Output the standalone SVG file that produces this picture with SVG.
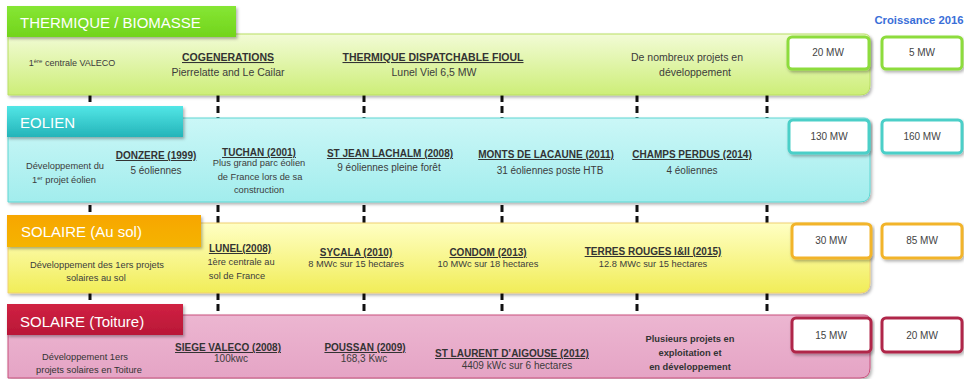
<svg xmlns="http://www.w3.org/2000/svg" width="964" height="379" viewBox="0 0 964 379">
<defs>
<filter id="sh" x="-5%" y="-20%" width="110%" height="150%"><feDropShadow dx="1.5" dy="2" stdDeviation="1.5" flood-color="#000" flood-opacity="0.3"/></filter>
<linearGradient id="gT" x1="0" y1="0" x2="0" y2="1"><stop offset="0" stop-color="#f2fbd6"/><stop offset="1" stop-color="#cdee78"/></linearGradient>
<linearGradient id="gE" x1="0" y1="0" x2="0" y2="1"><stop offset="0" stop-color="#cbf7f7"/><stop offset="1" stop-color="#a2eded"/></linearGradient>
<linearGradient id="gS" x1="0" y1="0" x2="0" y2="1"><stop offset="0" stop-color="#ffffc4"/><stop offset="1" stop-color="#f1ed58"/></linearGradient>
<linearGradient id="gR" x1="0" y1="0" x2="0" y2="1"><stop offset="0" stop-color="#ecb6d1"/><stop offset="1" stop-color="#e5a4c5"/></linearGradient>
<linearGradient id="tT" x1="0" y1="0" x2="0" y2="1"><stop offset="0" stop-color="#86e634"/><stop offset="1" stop-color="#72d41c"/></linearGradient>
<linearGradient id="tE" x1="0" y1="0" x2="0" y2="1"><stop offset="0" stop-color="#52e6e6"/><stop offset="1" stop-color="#24b4b9"/></linearGradient>
<linearGradient id="tS" x1="0" y1="0" x2="0" y2="1"><stop offset="0" stop-color="#f7a600"/><stop offset="1" stop-color="#f5b406"/></linearGradient>
<linearGradient id="tR" x1="0" y1="0" x2="0" y2="1"><stop offset="0" stop-color="#d02242"/><stop offset="1" stop-color="#b91737"/></linearGradient>
</defs>
<style>
text{font-family:"Liberation Sans",Arial,sans-serif;fill:#3c3c3c;text-anchor:middle}
.hd{fill:#fff;font-size:15px;text-anchor:start}
.t1{font-size:10.5px;font-weight:bold;text-decoration:underline;fill:#333}
.b1{font-size:10.5px}
.t{font-size:10px;font-weight:bold;text-decoration:underline;fill:#333}
.b{font-size:10px}
.s{font-size:9.3px}
.bx{fill:#fff;stroke-width:3;filter:url(#sh)}
.mw{font-size:10px;fill:#444}
.dash{stroke:#111;stroke-width:3;stroke-dasharray:7 4;fill:none}
.sup{font-size:6px}
</style>

<g id="connectors">
<line class="dash" x1="90" y1="95" x2="90" y2="316"/>
<line class="dash" x1="218" y1="95" x2="218" y2="316"/>
<line class="dash" x1="364" y1="95" x2="364" y2="316"/>
<line class="dash" x1="502" y1="95" x2="502" y2="316"/>
<line class="dash" x1="637" y1="95" x2="637" y2="316"/>
<line class="dash" x1="767" y1="95" x2="767" y2="316"/>
</g>

<text x="919" y="24" style="font-size:11.3px;font-weight:bold;fill:#3a6fd8;text-anchor:middle">Croissance 2016</text>

<g id="thermique">
<path d="M8,34 H864 Q870,34 870,40 V85 Q870,95 860,95 H8 Z" fill="url(#gT)" stroke="#b9df62" stroke-width="1" filter="url(#sh)"/>
<rect x="7" y="6" width="229" height="31" fill="url(#tT)" filter="url(#sh)"/>
<text class="hd" x="20" y="28">THERMIQUE / BIOMASSE</text>
<text x="72" y="66" style="font-size:9px">1<tspan class="sup" dy="-3.5">ère</tspan><tspan dy="3.5"> centrale VALECO</tspan></text>
<text class="t1" x="228" y="61">COGENERATIONS</text>
<text class="b1" x="228" y="76">Pierrelatte and Le Cailar</text>
<text class="t1" x="433" y="61">THERMIQUE DISPATCHABLE FIOUL</text>
<text class="b1" x="434" y="76">Lunel Viel 6,5 MW</text>
<text class="b1" x="687" y="61">De nombreux projets en</text>
<text class="b1" x="695" y="76">développement</text>
<rect class="bx" x="788" y="37" width="81" height="32" rx="4" stroke="#8ddc3c"/>
<text class="mw" x="828" y="56">20 MW</text>
<rect class="bx" x="882" y="37" width="80" height="32" rx="4" stroke="#8ddc3c"/>
<text class="mw" x="922" y="56">5 MW</text>
</g>

<g id="eolien">
<path d="M8,118 H864 Q870,118 870,124 V192 Q870,202 860,202 H8 Z" fill="url(#gE)" stroke="#5fd6d2" stroke-width="1" filter="url(#sh)"/>
<rect x="7" y="106" width="176" height="31" fill="url(#tE)" filter="url(#sh)"/>
<text class="hd" x="20" y="128">EOLIEN</text>
<text class="s" x="65" y="169">Développement du</text>
<text class="s" x="64" y="183">1<tspan class="sup" dy="-3.5">er</tspan><tspan dy="3.5"> projet éolien</tspan></text>
<text class="t" x="156" y="159">DONZERE (1999)</text>
<text class="b" x="156" y="174">5 éoliennes</text>
<text class="t" x="259" y="156">TUCHAN (2001)</text>
<text class="s" x="259" y="166">Plus grand parc éolien</text>
<text class="s" x="260" y="180">de France lors de sa</text>
<text class="s" x="259" y="193">construction</text>
<text class="t" x="390" y="157">ST JEAN LACHALM (2008)</text>
<text class="b" x="389" y="171">9 éoliennes pleine forêt</text>
<text class="t" x="546" y="158">MONTS DE LACAUNE (2011)</text>
<text class="b" x="550" y="174">31 éoliennes poste HTB</text>
<text class="t" x="692" y="158">CHAMPS PERDUS (2014)</text>
<text class="b" x="692" y="174">4 éoliennes</text>
<rect class="bx" x="789" y="120" width="80" height="33" rx="4" stroke="#4ccfc8"/>
<text class="mw" x="829" y="140">130 MW</text>
<rect class="bx" x="882" y="120" width="80" height="33" rx="4" stroke="#4ccfc8"/>
<text class="mw" x="922" y="140">160 MW</text>
</g>

<g id="solaire-sol">
<path d="M8,223 H864 Q870,223 870,229 V283 Q870,293 860,293 H8 Z" fill="url(#gS)" stroke="#f0d070" stroke-width="1" filter="url(#sh)"/>
<rect x="7" y="215" width="194" height="32" fill="url(#tS)" filter="url(#sh)"/>
<text class="hd" x="21" y="237">SOLAIRE (Au sol)</text>
<text class="s" x="97" y="268">Développement des 1ers projets</text>
<text class="s" x="96" y="281">solaires au sol</text>
<text class="t" x="240" y="252">LUNEL(2008)</text>
<text class="s" x="241" y="265">1ère centrale au</text>
<text class="s" x="237" y="279">sol de France</text>
<text class="t" x="356" y="256">SYCALA (2010)</text>
<text class="s" x="356" y="267">8 MWc sur 15 hectares</text>
<text class="t" x="488" y="256">CONDOM (2013)</text>
<text class="s" x="488" y="267">10 MWc sur 18 hectares</text>
<text class="t" x="653" y="255">TERRES ROUGES I&amp;II (2015)</text>
<text class="s" x="653" y="267">12.8 MWc sur 15 hectares</text>
<rect class="bx" x="792" y="224" width="79" height="34" rx="4" stroke="#f2b42a"/>
<text class="mw" x="831" y="244">30 MW</text>
<rect class="bx" x="882" y="224" width="80" height="34" rx="4" stroke="#f2b42a"/>
<text class="mw" x="922" y="244">85  MW</text>
</g>

<g id="solaire-toiture">
<path d="M8,315 H864 Q870,315 870,321 V368 Q870,378 860,378 H8 Z" fill="url(#gR)" stroke="#c8507c" stroke-width="1" filter="url(#sh)"/>
<rect x="7" y="304" width="176" height="31" fill="url(#tR)" filter="url(#sh)"/>
<text class="hd" x="20" y="327">SOLAIRE (Toiture)</text>
<text class="s" x="85" y="360" style="fill:#333">Développement 1ers</text>
<text class="s" x="89" y="373" style="fill:#333">projets solaires en Toiture</text>
<text class="t" x="228" y="351">SIEGE VALECO (2008)</text>
<text class="b" x="231" y="362">100kwc</text>
<text class="t" x="365" y="351">POUSSAN (2009)</text>
<text class="b" x="364" y="362">168,3 Kwc</text>
<text class="t" x="512" y="357">ST LAURENT D’AIGOUSE (2012)</text>
<text class="b" x="517" y="369">4409 kWc sur 6 hectares</text>
<text class="s" x="690" y="342" style="font-weight:bold;fill:#333">Plusieurs projets en</text>
<text class="s" x="690" y="356" style="font-weight:bold;fill:#333">exploitation et</text>
<text class="s" x="690" y="370" style="font-weight:bold;fill:#333">en développement</text>
<rect class="bx" x="792" y="318" width="79" height="34" rx="4" stroke="#b0284a"/>
<text class="mw" x="831" y="339">15 MW</text>
<rect class="bx" x="882" y="318" width="80" height="34" rx="4" stroke="#b0284a"/>
<text class="mw" x="922" y="339">20 MW</text>
</g>
</svg>
